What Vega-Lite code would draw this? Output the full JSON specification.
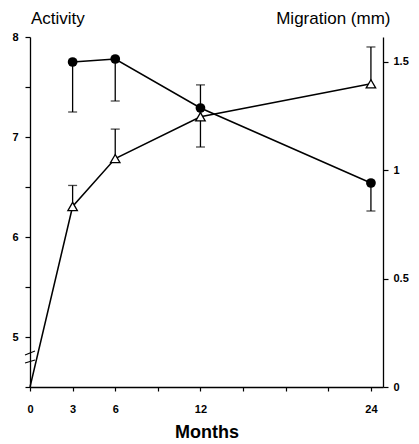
{
  "$schema": "https://vega.github.io/schema/vega-lite/v6.json",
  "width": 353,
  "height": 350,
  "autosize": {"type": "none"},
  "padding": {"left": 30, "top": 37, "right": 36, "bottom": 57},
  "background": "white",
  "config": {
    "font": "Liberation Sans",
    "view": {"stroke": null},
    "axis": {
      "grid": false,
      "domainColor": "black",
      "domainWidth": 1.3,
      "tickColor": "black",
      "tickWidth": 1.2,
      "labelColor": "black",
      "titleColor": "black",
      "labelFont": "Liberation Sans",
      "labelFontWeight": "bold",
      "labelFontSize": 11,
      "titleFont": "Liberation Sans"
    }
  },
  "datasets": {
    "main": [
      {"month": 0, "activity": null, "act_lo": null, "migration": 0, "mig_hi": null},
      {"month": 3, "activity": 7.75, "act_lo": 7.25, "migration": 0.833, "mig_hi": 0.93},
      {"month": 6, "activity": 7.78, "act_lo": 7.36, "migration": 1.054, "mig_hi": 1.19},
      {"month": 12, "activity": 7.29, "act_lo": 6.9, "migration": 1.247, "mig_hi": 1.394},
      {"month": 24, "activity": 6.54, "act_lo": 6.26, "migration": 1.399, "mig_hi": 1.569}
    ],
    "brk": [
      {"xa": -0.35, "xb": 0.35, "ya": 4.82, "yb": 4.86},
      {"xa": -0.35, "xb": 0.35, "ya": 4.74, "yb": 4.77}
    ]
  },
  "layer": [
    {
      "data": {"name": "main"},
      "encoding": {
        "x": {
          "field": "month",
          "type": "quantitative",
          "scale": {"domain": [0, 24.85], "nice": false, "zero": false},
          "axis": {
            "title": "Months",
            "titleFontSize": 18,
            "titleFontWeight": "bold",
            "titlePadding": 9,
            "values": [0, 3, 6, 9, 12, 15, 18, 21, 24],
            "labelExpr": "indexof([0,3,6,12,24], datum.value) >= 0 ? datum.label : ''",
            "tickSize": 4,
            "labelPadding": 12,
            "labelFlush": false
          }
        },
        "y": {
          "field": "activity",
          "type": "quantitative",
          "scale": {"domain": [4.5, 8], "nice": false, "zero": false},
          "axis": {
            "title": "Activity",
            "titleAngle": 0,
            "titleFontSize": 17,
            "titleFontWeight": "normal",
            "titleAlign": "left",
            "titleBaseline": "alphabetic",
            "titleX": 0.5,
            "titleY": -14,
            "values": [4.5, 5, 5.5, 6, 6.5, 7, 7.5, 8],
            "labelExpr": "datum.value % 1 === 0 ? format(datum.value, 'd') : ''",
            "tickSize": 5,
            "labelPadding": 7
          }
        }
      },
      "layer": [
        {"mark": {"type": "rule", "color": "black", "strokeWidth": 1.3}, "encoding": {"y2": {"field": "act_lo"}}},
        {"mark": {"type": "tick", "orient": "horizontal", "color": "black", "size": 9, "thickness": 1.3}, "encoding": {"y": {"field": "act_lo", "type": "quantitative"}}},
        {"mark": {"type": "line", "color": "black", "strokeWidth": 1.5}},
        {"mark": {"type": "point", "shape": "circle", "filled": true, "color": "black", "size": 95, "opacity": 1}},
        {
          "data": {"name": "brk"},
          "mark": {"type": "rule", "color": "black", "strokeWidth": 1.2},
          "encoding": {
            "x": {"field": "xa", "type": "quantitative"},
            "x2": {"field": "xb"},
            "y": {"field": "ya", "type": "quantitative"},
            "y2": {"field": "yb"}
          }
        }
      ]
    },
    {
      "data": {"name": "main"},
      "encoding": {
        "x": {"field": "month", "type": "quantitative"},
        "y": {
          "field": "migration",
          "type": "quantitative",
          "scale": {"domain": [0, 1.615], "nice": false, "zero": false},
          "axis": {
            "orient": "right",
            "title": "Migration (mm)",
            "titleAngle": 0,
            "titleFontSize": 17,
            "titleFontWeight": "normal",
            "titleAlign": "right",
            "titleBaseline": "alphabetic",
            "titleX": 7,
            "titleY": -14,
            "values": [0, 0.5, 1, 1.5],
            "format": "~g",
            "tickSize": 5,
            "labelPadding": 5
          }
        }
      },
      "layer": [
        {"mark": {"type": "rule", "color": "black", "strokeWidth": 1.3}, "encoding": {"y2": {"field": "mig_hi"}}},
        {"mark": {"type": "tick", "orient": "horizontal", "color": "black", "size": 9, "thickness": 1.3}, "encoding": {"y": {"field": "mig_hi", "type": "quantitative"}}},
        {"mark": {"type": "line", "color": "black", "strokeWidth": 1.5}},
        {"transform": [{"filter": "datum.month > 0"}], "mark": {"type": "point", "shape": "triangle-up", "filled": true, "fill": "white", "stroke": "black", "strokeWidth": 1.3, "size": 90, "opacity": 1}}
      ]
    }
  ],
  "resolve": {"scale": {"y": "independent"}}
}
